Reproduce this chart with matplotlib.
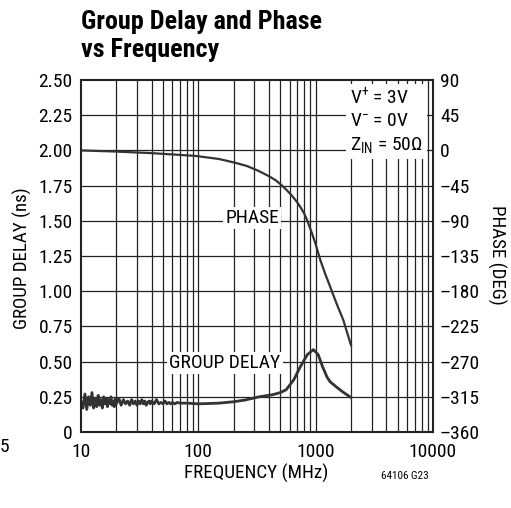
import matplotlib
matplotlib.use("Agg")
import matplotlib.pyplot as plt
from matplotlib.ticker import FixedLocator, FixedFormatter, NullLocator

FONT = ["Roboto Condensed", "Archivo Narrow", "DejaVu Sans"]
plt.rcParams["font.family"] = FONT
plt.rcParams["mathtext.fontset"] = "custom"
plt.rcParams["mathtext.rm"] = "Roboto Condensed"
plt.rcParams["mathtext.it"] = "Roboto Condensed"
plt.rcParams["mathtext.fallback"] = "stixsans"

INK = "#222222"

# group delay (ns) vs frequency (MHz), noisy low-frequency part then smooth
gd_freq = [10.0, 10.4, 10.8, 11.2, 11.6, 12.0, 12.4, 12.8, 13.2, 13.6, 14.0, 14.4,
           14.8, 15.2, 15.6, 16.0, 16.4, 16.8, 17.2, 17.6, 18.0, 18.4, 18.8, 19.2,
           19.6, 20, 21, 22, 23, 24, 25, 26, 27, 28, 29, 30, 31, 32, 33, 34, 35,
           36, 37, 38, 39, 40, 42, 44, 46, 48, 50, 52, 54, 56, 58, 60, 63, 66, 70,
           80, 100, 150, 200, 250, 330, 430, 500, 560, 650, 736, 850, 956, 1050,
           1150, 1250, 1327, 1500, 1700, 2000]
gd_ns = [0.22, 0.17, 0.27, 0.16, 0.25, 0.19, 0.28, 0.17, 0.24, 0.18, 0.26, 0.19,
         0.23, 0.17, 0.25, 0.20, 0.24, 0.18, 0.23, 0.20, 0.25, 0.19, 0.22, 0.18,
         0.24, 0.20, 0.24, 0.19, 0.23, 0.20, 0.22, 0.19, 0.23, 0.20, 0.22, 0.19,
         0.22, 0.20, 0.23, 0.20, 0.22, 0.19, 0.21, 0.22, 0.20, 0.22, 0.20, 0.23,
         0.20, 0.21, 0.20, 0.22, 0.20, 0.21, 0.20, 0.21, 0.20, 0.21, 0.205,
         0.205, 0.20, 0.205, 0.215, 0.227, 0.25, 0.265, 0.28, 0.30, 0.37, 0.46,
         0.55, 0.585, 0.55, 0.46, 0.39, 0.357, 0.32, 0.285, 0.245]

# phase (deg) vs frequency (MHz)
ph_freq = [10, 20, 40, 94, 150, 205, 260, 324, 400, 460, 508, 560, 620, 690,
           752, 800, 845, 920, 1000, 1050, 1100, 1200, 1327, 1500, 1721, 2000]
ph_deg = [0, -1.5, -3.5, -7, -11, -15.7, -20, -26, -33, -38.5, -44, -50, -57,
          -65.5, -74, -81, -89, -104, -120, -131, -141, -157, -174, -195, -217,
          -249]

left_ticks = [0, 0.25, 0.5, 0.75, 1.0, 1.25, 1.5, 1.75, 2.0, 2.25, 2.5]
left_labels = ["0", "0.25", "0.50", "0.75", "1.00", "1.25", "1.50", "1.75",
               "2.00", "2.25", "2.50"]
right_ticks = [-360, -315, -270, -225, -180, -135, -90, -45, 0, 45, 90]
right_labels = ["\u2013360", "\u2013315", "\u2013270", "\u2013225", "\u2013180",
                "\u2013135", "\u201390", "\u201345", "0", "45", "90"]
x_ticks = [10, 100, 1000, 10000]
x_labels = ["10", "100", "1000", "10000"]

fig = plt.figure(figsize=(5.11, 5.08), dpi=100)
ax = fig.add_axes([81 / 511, 1 - 432 / 508, 352 / 511, 352 / 508])
ax.set_xscale("log")
ax.set_xlim(10, 10000)
ax.set_ylim(0, 2.5)

# grid
minor = [m * 10 ** d for d in (1, 2, 3) for m in range(2, 10)]
for f in minor + x_ticks[1:-1]:
    ax.axvline(f, color=INK, lw=0.9, zorder=1)
for t in left_ticks[1:-1]:
    ax.axhline(t, color=INK, lw=0.9, zorder=1)

ax.xaxis.set_major_locator(FixedLocator(x_ticks))
ax.xaxis.set_major_formatter(FixedFormatter(x_labels))
ax.xaxis.set_minor_locator(NullLocator())
ax.yaxis.set_major_locator(FixedLocator(left_ticks))
ax.yaxis.set_major_formatter(FixedFormatter(left_labels))
ax.tick_params(axis="y", length=0, labelsize=14, pad=6, colors="black")
ax.tick_params(axis="x", length=0, labelsize=14, pad=8, colors="black")
for s in ax.spines.values():
    s.set_linewidth(1.5)
    s.set_color(INK)
    s.set_zorder(5)

ax2 = ax.twinx()
ax2.set_ylim(-360, 90)
ax2.yaxis.set_major_locator(FixedLocator(right_ticks))
ax2.yaxis.set_major_formatter(FixedFormatter(right_labels))
ax2.tick_params(length=0, labelsize=14, pad=5)
for s in ax2.spines.values():
    s.set_visible(False)

ax.plot(gd_freq, gd_ns, color="#333333", lw=2.0, zorder=3)
ax2.plot(ph_freq, ph_deg, color="#333333", lw=1.6, zorder=3)

fig.text(256 / 511, 1 - 473 / 508, "FREQUENCY (MHz)", fontsize=13.8,
         ha="center", va="center")
fig.text(22 / 511, 1 - 258 / 508, "GROUP DELAY (ns)", fontsize=13.6,
         ha="center", va="center", rotation=90)
fig.text(497 / 511, 1 - 255 / 508, "PHASE (DEG)", fontsize=13.6,
         ha="center", va="center", rotation=-90)

# labels on the curves
ax.text(287, 1.52, "PHASE", fontsize=14, ha="center", va="center", zorder=4,
        bbox=dict(facecolor="white", edgecolor="none", pad=1.5))
ax.text(169, 0.49, "GROUP DELAY", fontsize=14, ha="center", va="center", zorder=4,
        bbox=dict(facecolor="white", edgecolor="none", pad=1.5))

# conditions box
ax.text(0.765, 0.98, "V$^{+}$ = 3V\nV$^{-}$ = 0V\nZ$_{\\mathrm{IN}}$ = 50\u03a9",
        transform=ax.transAxes, fontsize=14, ha="left", va="top", zorder=4,
        linespacing=1.3,
        bbox=dict(facecolor="white", edgecolor="none", pad=3))

fig.text(81 / 511, 1 - 10 / 508, "Group Delay and Phase\nvs Frequency",
         fontsize=18.8, fontweight="bold", ha="left", va="top",
         linespacing=1.22)
fig.text(405 / 511, 1 - 476 / 508, "64106 G23", fontsize=8, ha="center",
         va="center")
fig.text(0, 1 - 447 / 508, "5", fontsize=14, ha="left", va="center")

fig.savefig("out.png", dpi=100)
